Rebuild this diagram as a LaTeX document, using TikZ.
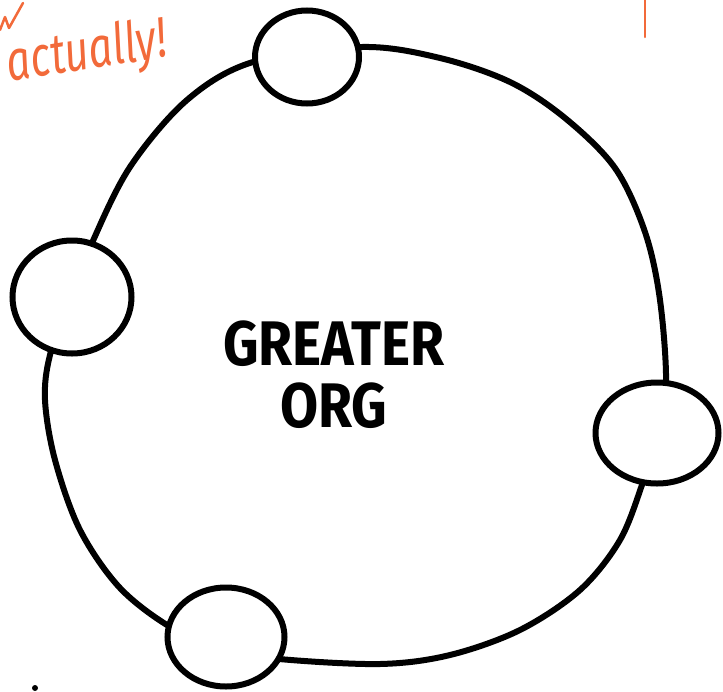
\documentclass[tikz,border=0pt]{standalone}
\usepackage{fontspec}
\usepackage{tikz}
\usetikzlibrary{shapes.geometric, positioning}
\newfontfamily\handfont{Fira Sans}
\definecolor{inkblack}{HTML}{000000}
\definecolor{noteorange}{HTML}{F26A3A}

\begin{document}
\begin{tikzpicture}[x=1pt, y=-1pt,
    ring/.style={draw=inkblack, line width=6pt, line cap=round, line join=round},
    blob/.style={ellipse, draw=inkblack, fill=white, line width=6pt, inner sep=0pt},
    note/.style={color=noteorange, inner sep=0pt,
                 font=\handfont\itshape\fontsize{42}{46}\selectfont}
]
\useasboundingbox (0,0) rectangle (723,691);

% the greater org
\draw[ring] plot[smooth cycle, tension=0.55] coordinates {
    (253,62) (362,47) (440,58) (510,82) (565,118) (615,168) (645,232)
    (660,300) (666,385) (656,440) (643,482) (620,540) (580,590) (520,630)
    (450,655) (380,664) (279,659) (226,650) (172,628) (120,588) (80,530)
    (55,460) (45,400) (50,355) (70,300) (92,243) (130,167) (187,100)};

% the small teams sitting on its edge
\node[blob, minimum width=104pt, minimum height=93pt] (teamtop) at (307,57) {};
\node[blob, minimum width=119pt, minimum height=113pt] (teamleft) at (72,297) {};
\node[blob, minimum width=123pt, minimum height=101pt] (teamright) at (657,433) {};
\node[blob, minimum width=117pt, minimum height=99pt] (teambottom) at (226,637) {};

\node[font=\handfont\bfseries\fontsize{60}{62}\selectfont, align=center, inner sep=0pt]
    (org) at (334,375) {\scalebox{0.92}[1.05]{GREATER}\\\scalebox{0.92}[1.05]{ORG}};

% notes in the margin
\node[note, rotate=9] (actually) at (87,54) {\scalebox{1}[1.35]{actually!}};
\draw[noteorange, line width=2.5pt, line cap=round] (645,0) -- (645,37);
\draw[noteorange, line width=2.5pt, line cap=round, line join=round]
    (0,30) -- (5,17) -- (9,28) -- (23,3);
\fill[inkblack] (35,688) circle (3pt);
\end{tikzpicture}
\end{document}
